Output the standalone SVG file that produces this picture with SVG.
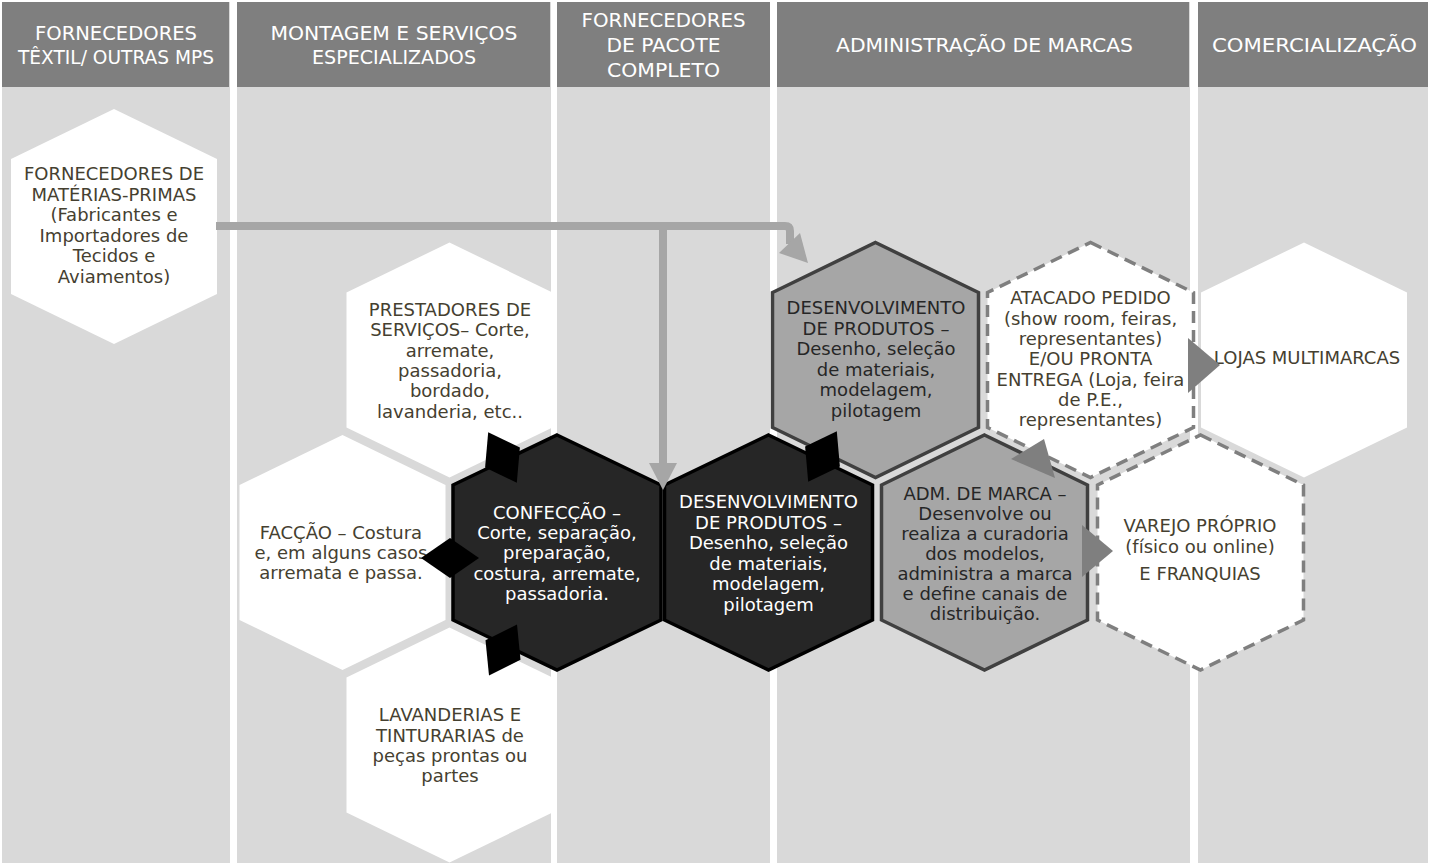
<svg xmlns="http://www.w3.org/2000/svg" width="1430" height="863" viewBox="0 0 1430 863">
<style>
.col{fill:#d9d9d9}
.hdr{fill:#7f7f7f}
.ht{font-family:"DejaVu Sans",sans-serif;font-size:20px;fill:#ffffff;text-anchor:middle}
.t{font-family:"DejaVu Sans",sans-serif;font-size:18px;fill:#454030;text-anchor:middle}
.tw{fill:#ffffff}
.td{fill:#262626}
.hw{fill:#ffffff}
.hk{fill:#262626;stroke:#000000;stroke-width:3.5;stroke-linejoin:miter}
.hg{fill:#a6a6a6;stroke:#404040;stroke-width:3.5}
.hd{fill:#ffffff;stroke:#7f7f7f;stroke-width:3.5;stroke-dasharray:12 7}
.ln{fill:none;stroke:#a6a6a6;stroke-width:8}
.ah{fill:#a6a6a6}
.ga{fill:#7f7f7f}
.dm{fill:#000000}
</style>
<g id="columns">
<rect class="col" x="2" y="2" width="228" height="861"/>
<rect class="col" x="237" y="2" width="314" height="861"/>
<rect class="col" x="557" y="2" width="213" height="861"/>
<rect class="col" x="777" y="2" width="413" height="861"/>
<rect class="col" x="1198" y="2" width="230" height="861"/>
<rect class="hdr" x="2" y="2" width="227" height="85"/>
<rect class="hdr" x="237" y="2" width="313" height="85"/>
<rect class="hdr" x="557" y="2" width="213" height="85"/>
<rect class="hdr" x="777" y="2" width="412" height="85"/>
<rect class="hdr" x="1198" y="2" width="230" height="85"/>
<text class="ht"><tspan x="116" y="40" textLength="162" lengthAdjust="spacingAndGlyphs">FORNECEDORES</tspan><tspan x="116" y="64" textLength="196" lengthAdjust="spacingAndGlyphs">TÊXTIL/ OUTRAS MPS</tspan></text>
<text class="ht"><tspan x="394" y="40" textLength="247" lengthAdjust="spacingAndGlyphs">MONTAGEM E SERVIÇOS</tspan><tspan x="394" y="64" textLength="164" lengthAdjust="spacingAndGlyphs">ESPECIALIZADOS</tspan></text>
<text class="ht"><tspan x="663.5" y="27" textLength="164" lengthAdjust="spacingAndGlyphs">FORNECEDORES</tspan><tspan x="663.5" y="52" textLength="114" lengthAdjust="spacingAndGlyphs">DE PACOTE</tspan><tspan x="663.5" y="77" textLength="113" lengthAdjust="spacingAndGlyphs">COMPLETO</tspan></text>
<text class="ht" x="984.5" y="52" textLength="297" lengthAdjust="spacingAndGlyphs">ADMINISTRAÇÃO DE MARCAS</text>
<text class="ht" x="1314.5" y="52" textLength="205" lengthAdjust="spacingAndGlyphs">COMERCIALIZAÇÃO</text>
</g>
<g id="n-materias">
<polygon class="hw" points="114,109 217,159 217,294 114,344 11,294 11,159"/>
<text class="t"><tspan x="114" y="180">FORNECEDORES DE</tspan><tspan x="114" y="200.5">MATÉRIAS-PRIMAS</tspan><tspan x="114" y="221">(Fabricantes e</tspan><tspan x="114" y="241.5">Importadores de</tspan><tspan x="114" y="262">Tecidos  e</tspan><tspan x="114" y="282.5">Aviamentos)</tspan></text>
</g>
<g id="n-prestadores">
<polygon class="hw" points="449.5,242.5 552.5,292.5 552.5,427.5 449.5,477.5 346.5,427.5 346.5,292.5"/>
<text class="t"><tspan x="450" y="316">PRESTADORES DE</tspan><tspan x="450" y="336">SERVIÇOS– Corte,</tspan><tspan x="450" y="356.5">arremate,</tspan><tspan x="450" y="377">passadoria,</tspan><tspan x="450" y="397">bordado,</tspan><tspan x="450" y="417.5">lavanderia, etc..</tspan></text>
</g>
<g id="n-faccao">
<polygon class="hw" points="342.5,435 445.5,485 445.5,620 342.5,670 239.5,620 239.5,485"/>
<text class="t"><tspan x="341" y="539">FACÇÃO – Costura</tspan><tspan x="341" y="559">e, em alguns casos</tspan><tspan x="341" y="579">arremata e passa.</tspan></text>
</g>
<g id="n-lavanderias">
<polygon class="hw" points="449.5,627.5 552.5,677.5 552.5,812.5 449.5,862.5 346.5,812.5 346.5,677.5"/>
<text class="t"><tspan x="450" y="721">LAVANDERIAS E</tspan><tspan x="450" y="741.5">TINTURARIAS de</tspan><tspan x="450" y="762">peças prontas ou</tspan><tspan x="450" y="782">partes</tspan></text>
</g>
<g id="n-confeccao">
<polygon class="hk" points="557,435 661,485 661,620 557,670 453,620 453,485"/>
<text class="t tw"><tspan x="557" y="519">CONFECÇÃO –</tspan><tspan x="557" y="539">Corte, separação,</tspan><tspan x="557" y="559">preparação,</tspan><tspan x="557" y="579.5">costura, arremate,</tspan><tspan x="557" y="600">passadoria.</tspan></text>
</g>
<g id="n-desenv-pacote">
<polygon class="hk" points="768.5,435 872.5,485 872.5,620 768.5,670 664.5,620 664.5,485"/>
<text class="t tw"><tspan x="768.5" y="508">DESENVOLVIMENTO</tspan><tspan x="768.5" y="528.5">DE PRODUTOS –</tspan><tspan x="768.5" y="549">Desenho, seleção</tspan><tspan x="768.5" y="569.5">de materiais,</tspan><tspan x="768.5" y="590">modelagem,</tspan><tspan x="768.5" y="610.5">pilotagem</tspan></text>
</g>
<g id="n-desenv-marca">
<polygon class="hg" points="875.5,242.5 978.5,292.5 978.5,427.5 875.5,477.5 772.5,427.5 772.5,292.5"/>
<text class="t td"><tspan x="876" y="314">DESENVOLVIMENTO</tspan><tspan x="876" y="334.5">DE PRODUTOS –</tspan><tspan x="876" y="355">Desenho, seleção</tspan><tspan x="876" y="375.5">de materiais,</tspan><tspan x="876" y="396">modelagem,</tspan><tspan x="876" y="416.5">pilotagem</tspan></text>
</g>
<g id="n-adm">
<polygon class="hg" points="984.5,435 1087.5,485 1087.5,620 984.5,670 881.5,620 881.5,485"/>
<text class="t td"><tspan x="985" y="500">ADM. DE MARCA –</tspan><tspan x="985" y="520">Desenvolve ou</tspan><tspan x="985" y="540">realiza a curadoria</tspan><tspan x="985" y="560">dos modelos,</tspan><tspan x="985" y="580">administra a marca</tspan><tspan x="985" y="600">e define canais de</tspan><tspan x="985" y="620">distribuição.</tspan></text>
</g>
<g id="n-atacado">
<polygon class="hd" points="1090.5,242.5 1193.5,292.5 1193.5,427.5 1090.5,477.5 987.5,427.5 987.5,292.5"/>
<text class="t"><tspan x="1090.5" y="304">ATACADO PEDIDO</tspan><tspan x="1090.5" y="324.5">(show room, feiras,</tspan><tspan x="1090.5" y="344.5">representantes)</tspan><tspan x="1090.5" y="364.5">E/OU PRONTA</tspan><tspan x="1090.5" y="385.5">ENTREGA (Loja, feira</tspan><tspan x="1090.5" y="406">de P.E.,</tspan><tspan x="1090.5" y="426">representantes)</tspan></text>
</g>
<g id="n-lojas">
<polygon class="hw" points="1304,242.5 1407,292.5 1407,427.5 1304,477.5 1201,427.5 1201,292.5"/>
<text class="t" x="1307" y="364">LOJAS MULTIMARCAS</text>
</g>
<g id="n-varejo">
<polygon class="hd" points="1200.5,435 1303.5,485 1303.5,620 1200.5,670 1097.5,620 1097.5,485"/>
<text class="t"><tspan x="1200" y="532">VAREJO PRÓPRIO</tspan><tspan x="1200" y="553">(físico ou online)</tspan><tspan x="1200" y="580">E FRANQUIAS</tspan></text>
</g>
<g id="connectors">
<path class="ln" d="M216,226 H785 Q790,226 790,231 V244"/>
<polygon class="ah" points="779,253 808,263 800,233"/>
<path class="ln" d="M663,226 V464"/>
<polygon class="ah" points="649,463 677,463 663,490"/>
<polygon class="dm" points="421,558 450,538 479,558 450,578"/>
<polygon class="dm" points="488.2,432.3 519.9,447.6 516.8,482.7 485.1,467.4"/>
<polygon class="dm" points="517,624.6 520.5,659.7 489,675.4 485.5,640.3"/>
<polygon class="dm" points="836.8,431.3 839.9,466.4 808.2,481.7 805.1,446.6"/>
<polygon class="ga" points="1011,459 1044,439 1055,478"/>
<polygon class="ga" points="1082,525 1082,577 1113,551"/>
<polygon class="ga" points="1188,338 1188,393 1220,365"/>
</g>
</svg>
